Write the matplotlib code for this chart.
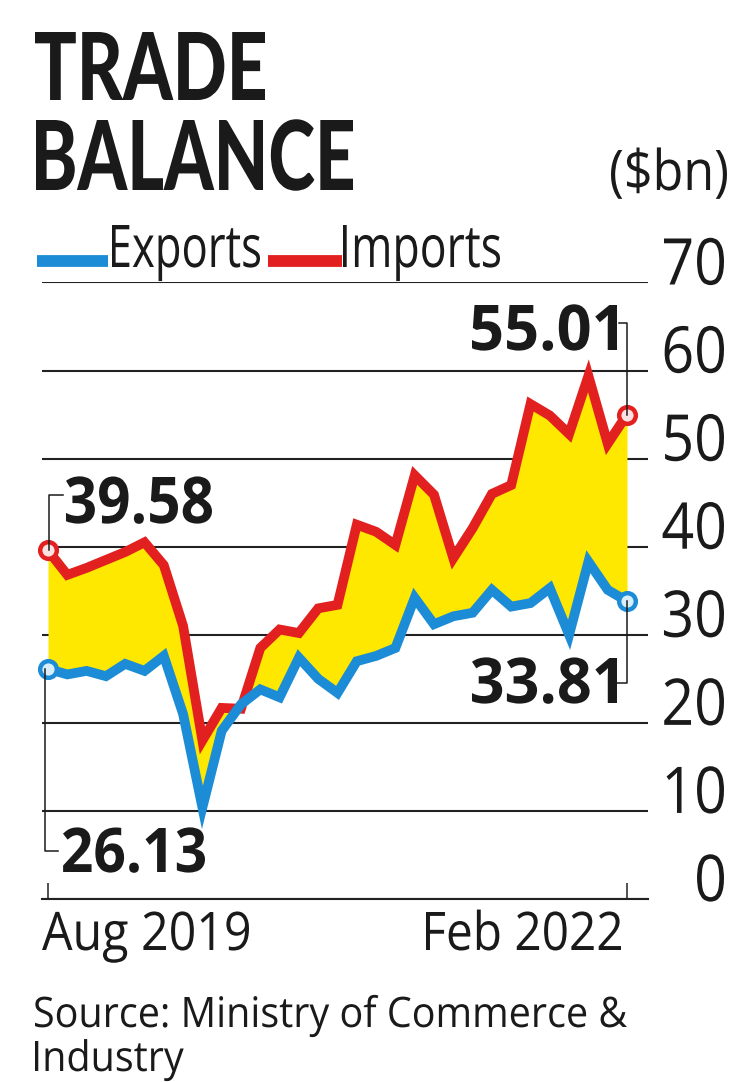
import matplotlib
matplotlib.use("Agg")
import matplotlib.pyplot as plt
from matplotlib import patheffects
from matplotlib.text import Text
from matplotlib.transforms import Affine2D, Bbox
from matplotlib.textpath import TextPath
from matplotlib.font_manager import FontProperties, fontManager, weight_dict

# ---------------- data ----------------
months = ["Aug 2019", "Sep 2019", "Oct 2019", "Nov 2019", "Dec 2019",
          "Jan 2020", "Feb 2020", "Mar 2020", "Apr 2020", "May 2020", "Jun 2020",
          "Jul 2020", "Aug 2020", "Sep 2020", "Oct 2020", "Nov 2020", "Dec 2020",
          "Jan 2021", "Feb 2021", "Mar 2021", "Apr 2021", "May 2021", "Jun 2021",
          "Jul 2021", "Aug 2021", "Sep 2021", "Oct 2021", "Nov 2021", "Dec 2021",
          "Jan 2022", "Feb 2022"]
exports = [26.13, 25.5, 25.9, 25.3, 26.7, 25.9, 27.6, 21.0, 10.4, 19.1, 22.1,
           23.8, 22.9, 27.4, 25.0, 23.4, 27.0, 27.6, 28.5, 34.2, 31.2, 32.1,
           32.5, 35.1, 33.2, 33.6, 35.3, 30.0, 38.3, 35.1, 33.81]
imports = [39.58, 36.8, 37.6, 38.5, 39.4, 40.5, 37.9, 31.0, 18.0, 21.7, 21.6,
           28.5, 30.6, 30.2, 33.0, 33.4, 42.5, 41.7, 40.2, 48.1, 45.9, 38.7,
           42.1, 46.0, 47.0, 56.2, 54.9, 52.8, 59.4, 51.7, 55.01]
y_ticks = [0, 10, 20, 30, 40, 50, 60, 70]
x_tick_labels = ["Aug 2019", "Feb 2022"]
title_lines = ["TRADE", "BALANCE"]
unit_label = "($bn)"
series_names = ["Exports", "Imports"]
source_lines = ["Source: Ministry of Commerce &", "Industry"]

# ---------------- style ----------------
W, H, DPI = 738, 1082, 100
BLUE = "#1C8CD6"
RED = "#E2201F"
YELLOW = "#FFE800"
INK = "#1a1a1a"
GRID = "#222222"


def _wnum(w):
    if isinstance(w, str):
        return weight_dict.get(w, 400)
    return int(w)


def find_font(prefs, target):
    for fam in prefs:
        cands = [f for f in fontManager.ttflist
                 if f.name == fam and f.style == "normal"]
        if cands:
            best = min(cands, key=lambda f: abs(_wnum(f.weight) - target))
            return FontProperties(fname=best.fname)
    return FontProperties(family="DejaVu Sans",
                          weight="bold" if target >= 600 else "normal")


FP_TITLE = find_font(["Lato", "Roboto", "Inter", "Open Sans", "Noto Sans"], 900)
FP_BOLD = find_font(["Open Sans", "Noto Sans", "Roboto", "Lato"], 700)
FP_REG = find_font(["Open Sans", "Noto Sans", "Lato", "Roboto"], 400)


class HScale(patheffects.AbstractPathEffect):
    """Horizontally condense the glyphs about the text's left start or its
    right ink edge."""

    def __init__(self, sx, pivot="left"):
        super().__init__((0, 0))
        self.sx = sx
        self.pivot = pivot

    def draw_path(self, renderer, gc, tpath, affine, rgbFace=None):
        if self.pivot == "right":
            xr = tpath.get_extents().x1
            pre = Affine2D().translate(-xr, 0).scale(self.sx, 1.0).translate(xr, 0)
        else:
            pre = Affine2D().scale(self.sx, 1.0)
        renderer.draw_path(gc, tpath, pre + affine, rgbFace)


class CondensedText(Text):
    """A left-anchored Text drawn horizontally condensed by factor sx."""

    def __init__(self, x, y, s, sx=1.0, pivot="left", **kw):
        super().__init__(x, y, s, **kw)
        self._sx = sx
        self._pivot = pivot
        self.set_path_effects([HScale(sx, pivot)])

    def get_window_extent(self, renderer=None, dpi=None):
        bb = super().get_window_extent(renderer, dpi)
        if self._pivot == "right":
            return Bbox.from_extents(bb.x1 - bb.width * self._sx, bb.y0,
                                     bb.x1, bb.y1)
        return Bbox.from_extents(bb.x0, bb.y0, bb.x0 + bb.width * self._sx,
                                 bb.y1)


fig = plt.figure(figsize=(W / DPI, H / DPI), dpi=DPI)
fig.patch.set_facecolor("white")

# chart axes (pixel layout)
ax_l, ax_r, ax_bot, ax_top = 42, 648, 899, 282.5
ax = fig.add_axes([ax_l / W, (H - ax_bot) / H, (ax_r - ax_l) / W,
                   (ax_bot - ax_top) / H])
x0_px, x1_px = 48, 627
ppu = (x1_px - x0_px) / (len(months) - 1)
ax.set_xlim(-(x0_px - ax_l) / ppu, (len(months) - 1) + (ax_r - x1_px) / ppu)
ax.set_ylim(0, 70)
ax.patch.set_alpha(0)

x = list(range(len(months)))

ax.set_yticks(y_ticks)
ax.set_yticklabels([])
ax.tick_params(axis="y", length=0)
ax.grid(axis="y", color=GRID, lw=1.5)
ax.set_axisbelow(True)
ax.set_xticks([0, len(months) - 1])
ax.set_xticklabels([])
ax.tick_params(axis="x", direction="in", length=11.5, width=1.1, color=GRID)
for s in ["top", "left", "right"]:
    ax.spines[s].set_visible(False)
ax.spines["bottom"].set_color(GRID)
ax.spines["bottom"].set_linewidth(1.5)

ax.fill_between(x, exports, imports, color=YELLOW, lw=0, zorder=2)
ax.plot(x, imports, color=RED, lw=7, solid_joinstyle="miter", zorder=3,
        clip_on=False)
ax.plot(x, exports, color=BLUE, lw=7, solid_joinstyle="miter", zorder=3,
        clip_on=False)
ends = [0, len(months) - 1]
ax.plot(ends, [imports[i] for i in ends], "o", ms=12, mew=3.2, mec=RED,
        mfc="#FBE1E2", zorder=5, clip_on=False)
ax.plot(ends, [exports[i] for i in ends], "o", ms=12, mew=3.2, mec=BLUE,
        mfc="#D8EEFB", zorder=5, clip_on=False)

# overlay in pixel coordinates (y down)
ov = fig.add_axes([0, 0, 1, 1], zorder=10)
ov.set_xlim(0, W)
ov.set_ylim(H, 0)
ov.axis("off")
ov.patch.set_alpha(0)


def d2p(xv, yv):
    dx, dy = ax.transData.transform((xv, yv))
    return dx * W / fig.bbox.width, H - dy * H / fig.bbox.height


def cap_ratio(fp):
    e = TextPath((0, 0), "H", size=100, prop=fp).get_extents()
    return e.height / 100.0


def sized(fp, cap):
    fp = fp.copy()
    fp.set_size(cap / cap_ratio(fp) * 72.0 / DPI)
    return fp


def ink(s, fp):
    e = TextPath((0, 0), s, prop=fp).get_extents()
    return e.x0 * DPI / 72.0, e.x1 * DPI / 72.0


def put(s, left, baseline, cap, fp, width=None, sx=None, right=None,
        color=INK, pivot="left"):
    fp = sized(fp, cap)
    xmin, xmax = ink(s, fp)
    if sx is None:
        sx = width / (xmax - xmin)
    if right is not None:
        left = right - sx * (xmax - xmin)
    if pivot == "right":
        anchor = left + sx * (xmax - xmin) - xmax
    else:
        anchor = left - sx * xmin
    t = CondensedText(anchor, baseline, s, sx=sx, pivot=pivot,
                      fontproperties=fp, ha="left", va="baseline",
                      color=color)
    ov.add_artist(t)
    return sx


def measure_sx(s, cap, fp, width):
    xmin, xmax = ink(s, sized(fp, cap))
    return width / (xmax - xmin)


# title
put(title_lines[0], 35, 100, 68, FP_TITLE, width=230)
put(title_lines[1], 36, 190, 70, FP_TITLE, width=317)
put(unit_label, 611, 190, 40, FP_REG, width=116, pivot="right")

# legend
ov.plot([37, 108], [261, 261], color=BLUE, lw=8.5, solid_capstyle="butt")
ov.plot([268, 342], [261, 261], color=RED, lw=8.5, solid_capstyle="butt")
put(series_names[0], 112, 267, 42, FP_REG, width=148)
put(series_names[1], 343, 267, 42, FP_REG, width=157)

# y tick labels
TICK_CAP = 46
sx_t = measure_sx(str(y_ticks[-1]), TICK_CAP, FP_REG, 60)
for v in y_ticks:
    _, py = d2p(0, v)
    put(str(v), 0, py + 2, TICK_CAP, FP_REG, sx=sx_t, right=724,
        pivot="right")

# x tick labels
put(x_tick_labels[0], 42, 950, 38, FP_REG, width=207)
put(x_tick_labels[1], 426, 950, 38, FP_REG, width=195)

# source
sx_s = put(source_lines[0], 35, 1027, 30, FP_REG, width=592)
put(source_lines[1], 35, 1071, 30, FP_REG, sx=sx_s)

# value call-outs
lw_b = 1.1
mx, my = d2p(0, imports[0])
ov.plot([mx + 1, mx + 1, 63], [my, 495, 495], color=INK, lw=lw_b)
put(f"{imports[0]:.2f}", 66, 523, 46, FP_BOLD, width=146)

mx, my = d2p(0, exports[0])
ov.plot([mx - 3, mx - 3, 58], [my, 851, 851], color=INK, lw=lw_b)
put(f"{exports[0]:.2f}", 63, 872, 44, FP_BOLD, width=142)

mx, my = d2p(len(months) - 1, imports[-1])
ov.plot([619, mx, mx], [323, 323, my], color=INK, lw=lw_b)
put(f"{imports[-1]:.2f}", 472, 350, 45, FP_BOLD, width=145)

mx, my = d2p(len(months) - 1, exports[-1])
ov.plot([617, mx, mx], [683, 683, my], color=INK, lw=lw_b)
put(f"{exports[-1]:.2f}", 472, 703, 45, FP_BOLD, width=145)

fig.savefig("out.png", dpi=DPI, facecolor="white")
